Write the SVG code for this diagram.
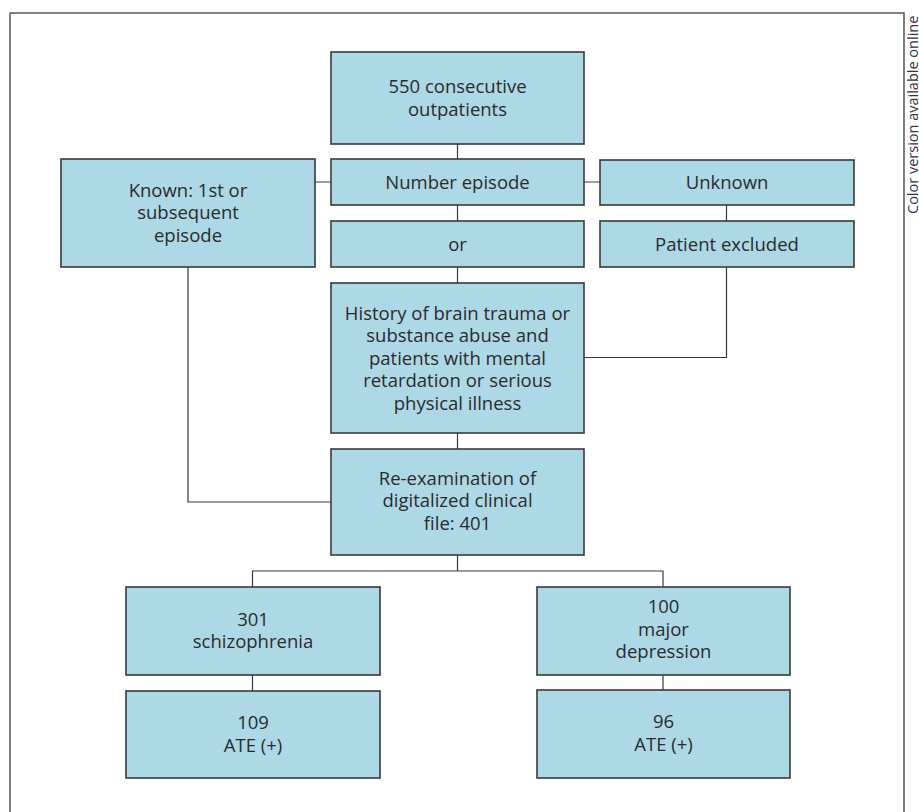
<svg xmlns="http://www.w3.org/2000/svg" width="919" height="812" viewBox="0 0 919 812">
<style>
.box{fill:#add8e6;stroke:#3a3a3a;stroke-width:1.6}
.t{font-family:"Open Sans","Liberation Sans",sans-serif;font-size:18.5px;fill:#2b2b2b;text-anchor:middle}
.c{fill:none;stroke:#3a3a3a;stroke-width:1.2}
.frame{fill:none;stroke:#555;stroke-width:1.5}
.note{font-family:"Open Sans","Liberation Sans",sans-serif;font-size:14.5px;fill:#333}
</style>
<rect width="919" height="812" fill="#fff"/>
<path class="frame" d="M10,815 V13 H904 V815"/>
<text class="note" transform="translate(918,214) rotate(-90)">Color version available online</text>
<g id="connectors">
<path class="c" d="M457.5,144V159M457.5,205V221M457.5,267V283M457.5,433V449"/>
<path class="c" d="M315,182H331M584,182H600M726.5,205V221"/>
<path class="c" d="M726.5,267V357.5H584"/>
<path class="c" d="M188,267V502H331"/>
<path class="c" d="M457.5,555V571M252.5,587V571H663V587"/>
<path class="c" d="M252.5,675V691M663,675V690"/>
</g>
<g id="n550"><rect class="box" x="331" y="52" width="253" height="92"/>
<text class="t" x="457.5" y="93">550 consecutive</text><text class="t" x="457.5" y="115.5">outpatients</text></g>
<g id="number"><rect class="box" x="331" y="159" width="253" height="46"/>
<text class="t" x="457.5" y="188.5">Number episode</text></g>
<g id="or"><rect class="box" x="331" y="221" width="253" height="46"/>
<text class="t" x="457.5" y="250.5">or</text></g>
<g id="history"><rect class="box" x="331" y="283" width="253" height="150"/>
<text class="t" x="457.5" y="319.5">History of brain trauma or</text>
<text class="t" x="457.5" y="342">substance abuse and</text>
<text class="t" x="457.5" y="364.5">patients with mental</text>
<text class="t" x="457.5" y="387">retardation or serious</text>
<text class="t" x="457.5" y="409.5">physical illness</text></g>
<g id="unknown"><rect class="box" x="600" y="160" width="254" height="45"/>
<text class="t" x="727" y="189">Unknown</text></g>
<g id="excluded"><rect class="box" x="600" y="221" width="254" height="46"/>
<text class="t" x="727" y="250.5">Patient excluded</text></g>
<g id="known"><rect class="box" x="61" y="159" width="254" height="108"/>
<text class="t" x="188" y="196.5">Known: 1st or</text>
<text class="t" x="188" y="219">subsequent</text>
<text class="t" x="188" y="241.5">episode</text></g>
<g id="reexam"><rect class="box" x="331" y="449" width="253" height="106"/>
<text class="t" x="457.5" y="484.5">Re-examination of</text>
<text class="t" x="457.5" y="507">digitalized clinical</text>
<text class="t" x="457.5" y="529.5">file: 401</text></g>
<g id="schizo"><rect class="box" x="126" y="587" width="254" height="88"/>
<text class="t" x="253" y="625.5">301</text><text class="t" x="253" y="648">schizophrenia</text></g>
<g id="ate1"><rect class="box" x="126" y="691" width="254" height="87"/>
<text class="t" x="253" y="729">109</text><text class="t" x="253" y="751.5">ATE (+)</text></g>
<g id="depression"><rect class="box" x="537" y="587" width="253" height="88"/>
<text class="t" x="663.5" y="613">100</text><text class="t" x="663.5" y="635.5">major</text><text class="t" x="663.5" y="658">depression</text></g>
<g id="ate2"><rect class="box" x="537" y="690" width="253" height="88"/>
<text class="t" x="663.5" y="728">96</text><text class="t" x="663.5" y="750.5">ATE (+)</text></g>
</svg>
